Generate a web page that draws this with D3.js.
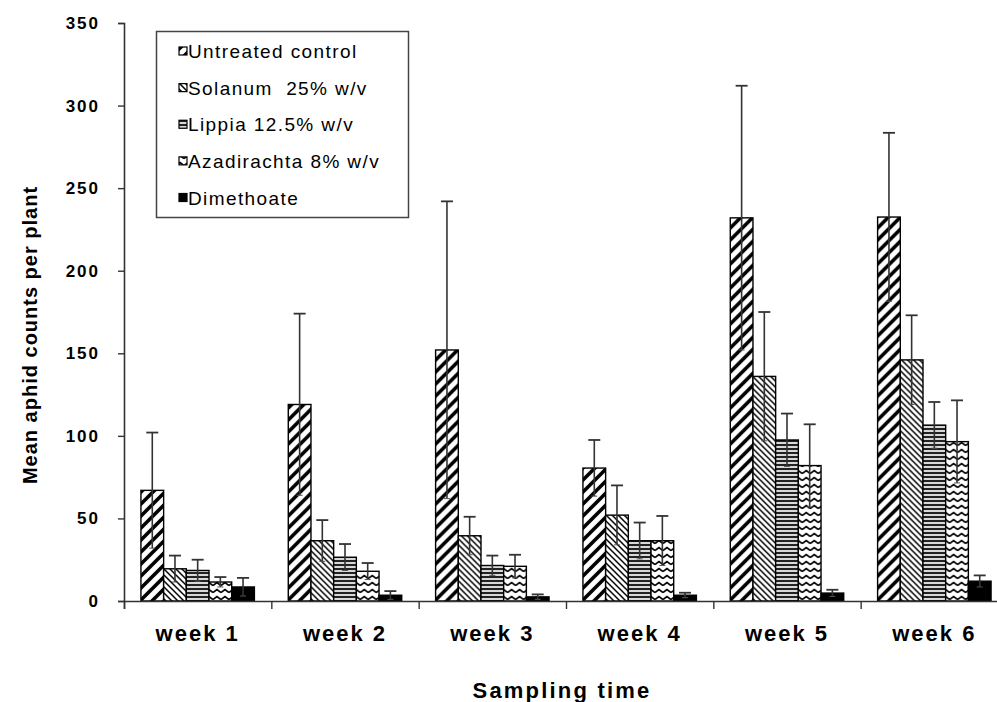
<!DOCTYPE html>
<html>
<head>
<meta charset="utf-8">
<script src="https://cdn.jsdelivr.net/npm/d3@7"></script>
<style>
  html, body { margin: 0; padding: 0; background: #fff; }
  svg { display: block; }
</style>
</head>
<body>
<script>
// ---------- DATA ----------
const weeks = ["week 1", "week 2", "week 3", "week 4", "week 5", "week 6"];
const seriesNames = ["Untreated control", "Solanum  25% w/v", "Lippia 12.5% w/v", "Azadirachta 8% w/v", "Dimethoate"];
const untreated      = [67, 119, 152, 80.5, 232, 232.5];
const untreatedErr   = [35, 55, 90, 17, 80, 51];
const solanum        = [19.5, 36.5, 39.5, 52, 136, 146];
const solanumErr     = [8, 12.5, 11.5, 18, 39, 27];
const lippia         = [18.5, 26.5, 21.5, 36.5, 97.5, 106.5];
const lippiaErr      = [6.5, 8, 6, 11, 16, 14];
const azadirachta    = [11.5, 18, 21, 36.5, 82, 96.5];
const azadirachtaErr = [3, 5, 7, 15, 25, 25];
const dimethoate     = [8.5, 3.5, 2.5, 3.5, 4.8, 12];
const dimethoateErr  = [5.5, 2.5, 1.5, 1.5, 2, 3.5];
const yTicks = [0, 50, 100, 150, 200, 250, 300, 350];

const seriesValues = [untreated, solanum, lippia, azadirachta, dimethoate];
const seriesErrors = [untreatedErr, solanumErr, lippiaErr, azadirachtaErr, dimethoateErr];
const patternIds = ["p-untreated", "p-solanum", "p-lippia", "p-azad", "p-dim"];

// ---------- LAYOUT ----------
const W = 997, H = 702;
const plot = { left: 124, right: 1008, top: 23, bottom: 601 };

const svg = d3.select("body").append("svg")
  .attr("width", W).attr("height", H)
  .style("font-family", "'Liberation Sans', Arial, sans-serif");

// ---------- PATTERNS ----------
const defs = svg.append("defs");
{
  const p = defs.append("pattern").attr("id", "p-untreated")
    .attr("patternUnits", "userSpaceOnUse").attr("width", 12).attr("height", 12);
  p.append("rect").attr("width", 12).attr("height", 12).attr("fill", "#fff");
  p.append("path").attr("d", "M-3,3 L3,-3 M0,12 L12,0 M9,15 L15,9")
    .attr("stroke", "#000").attr("stroke-width", 3.6);
}
{
  const p = defs.append("pattern").attr("id", "p-solanum")
    .attr("patternUnits", "userSpaceOnUse").attr("width", 6).attr("height", 6);
  p.append("rect").attr("width", 6).attr("height", 6).attr("fill", "#fff");
  p.append("path").attr("d", "M-1.5,4.5 L1.5,7.5 M0,0 L6,6 M4.5,-1.5 L7.5,1.5")
    .attr("stroke", "#000").attr("stroke-width", 1.5);
}
{
  const p = defs.append("pattern").attr("id", "p-lippia")
    .attr("patternUnits", "userSpaceOnUse").attr("width", 8).attr("height", 4);
  p.append("rect").attr("width", 8).attr("height", 4).attr("fill", "#d8d8d8");
  p.append("rect").attr("y", 0).attr("width", 8).attr("height", 2).attr("fill", "#222");
}
{
  const p = defs.append("pattern").attr("id", "p-azad")
    .attr("patternUnits", "userSpaceOnUse").attr("width", 8).attr("height", 7);
  p.append("rect").attr("width", 8).attr("height", 7).attr("fill", "#fff");
  p.append("path").attr("d", "M0,4.5 L4,1.5 L8,4.5")
    .attr("fill", "none").attr("stroke", "#000").attr("stroke-width", 1.6);
}
{
  const p = defs.append("pattern").attr("id", "p-dim")
    .attr("patternUnits", "userSpaceOnUse").attr("width", 4).attr("height", 4);
  p.append("rect").attr("width", 4).attr("height", 4).attr("fill", "#000");
}

// ---------- SCALES ----------
const x0 = d3.scaleBand().domain(weeks).range([plot.left, plot.right])
  .paddingInner(0.23).paddingOuter(0.115);
const x1 = d3.scaleBand().domain(seriesNames).range([0, x0.bandwidth()]).padding(0);
const y = d3.scaleLinear().domain([0, 350]).range([plot.bottom, plot.top]);
const xBoundary = d3.scaleLinear().domain([0, weeks.length]).range([plot.left, plot.right]);

// ---------- BARS ----------
const groups = svg.append("g").selectAll("g").data(weeks).join("g")
  .attr("transform", d => `translate(${x0(d)},0)`);

groups.each(function(week, wi) {
  const g = d3.select(this);
  seriesNames.forEach((s, si) => {
    const v = seriesValues[si][wi];
    g.append("rect")
      .attr("x", x1(s)).attr("width", x1.bandwidth())
      .attr("y", y(v)).attr("height", y(0) - y(v))
      .attr("fill", `url(#${patternIds[si]})`)
      .attr("stroke", "#000").attr("stroke-width", 1.4);
  });
});

// ---------- ERROR BARS ----------
groups.each(function(week, wi) {
  const g = d3.select(this);
  seriesNames.forEach((s, si) => {
    const v = seriesValues[si][wi], e = seriesErrors[si][wi];
    const cx = x1(s) + x1.bandwidth() / 2;
    const lo = Math.max(0, v - e), hi = v + e;
    g.append("line").attr("x1", cx).attr("x2", cx)
      .attr("y1", y(lo)).attr("y2", y(hi))
      .attr("stroke", "#333").attr("stroke-width", 1.6);
    g.append("line").attr("x1", cx - 6).attr("x2", cx + 6)
      .attr("y1", y(hi)).attr("y2", y(hi))
      .attr("stroke", "#333").attr("stroke-width", 1.8);
    g.append("line").attr("x1", cx - 3).attr("x2", cx + 3)
      .attr("y1", y(lo)).attr("y2", y(lo))
      .attr("stroke", "#555").attr("stroke-width", 1);
  });
});

// ---------- AXES ----------
const yAxis = d3.axisLeft(y).tickValues(yTicks).tickSize(6).tickPadding(18);
const yg = svg.append("g").attr("transform", `translate(${plot.left},0)`).call(yAxis);
yg.select(".domain").attr("stroke", "#333").attr("stroke-width", 1.6);
yg.selectAll(".tick line").attr("stroke", "#333").attr("stroke-width", 1.4);
yg.selectAll(".tick text").attr("font-size", 17).attr("font-weight", "bold")
  .attr("letter-spacing", 2)
  .attr("fill", "#000").attr("font-family", "'Liberation Sans', Arial, sans-serif");

const xAxis = d3.axisBottom(xBoundary).tickValues(d3.range(0, weeks.length + 1))
  .tickSize(8).tickFormat("");
const xg = svg.append("g").attr("transform", `translate(0,${plot.bottom})`).call(xAxis);
xg.select(".domain").attr("stroke", "#333").attr("stroke-width", 1.6);
xg.selectAll(".tick line").attr("stroke", "#333").attr("stroke-width", 1.4);

// category labels
svg.append("g").selectAll("text").data(weeks).join("text")
  .attr("x", d => x0(d) + x0.bandwidth() / 2)
  .attr("y", 641)
  .attr("text-anchor", "middle")
  .attr("font-size", 22).attr("font-weight", "bold")
  .attr("letter-spacing", 2)
  .text(d => d);

// axis titles
svg.append("text")
  .attr("x", 562).attr("y", 698)
  .attr("text-anchor", "middle")
  .attr("font-size", 22).attr("font-weight", "bold").attr("letter-spacing", 2.2)
  .text("Sampling time");

svg.append("text")
  .attr("transform", "translate(37,335) rotate(-90)")
  .attr("text-anchor", "middle")
  .attr("font-size", 20).attr("font-weight", "bold").attr("letter-spacing", 1)
  .text("Mean aphid counts per plant");

// ---------- LEGEND ----------
const legend = svg.append("g");
legend.append("rect")
  .attr("x", 156.5).attr("y", 31.5).attr("width", 252).attr("height", 186)
  .attr("fill", "#fff").attr("stroke", "#444").attr("stroke-width", 1.5);
const rowY = d3.scalePoint().domain(seriesNames).range([51.5, 198]);
seriesNames.forEach((s, si) => {
  const cy = rowY(s);
  legend.append("rect")
    .attr("x", 179).attr("y", cy - 4.5).attr("width", 8).attr("height", 8)
    .attr("fill", `url(#${patternIds[si]})`)
    .attr("stroke", "#000").attr("stroke-width", 1.2);
  legend.append("text")
    .attr("x", 188).attr("y", cy + 6.5)
    .attr("font-size", 19).attr("letter-spacing", 1.4)
    .attr("fill", "#000")
    .style("white-space", "pre")
    .text(s);
});
</script>
</body>
</html>
